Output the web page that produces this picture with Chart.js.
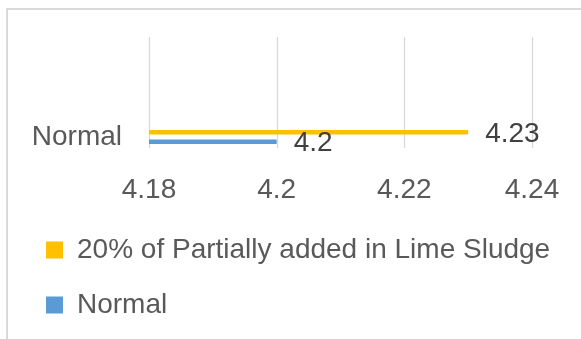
<!DOCTYPE html>
<html>
<head>
<meta charset="utf-8">
<script src="https://cdn.jsdelivr.net/npm/chart.js@4/dist/chart.umd.min.js"></script>
<style>
  html, body { margin: 0; padding: 0; background: #ffffff; overflow: hidden; }
  #wrap { position: relative; width: 581px; height: 339px; overflow: hidden; }
  #frame { position: absolute; left: 6px; top: 8px; width: 1000px; height: 1000px;
           border: 2px solid #d9d9d9; box-sizing: border-box; }
  #chart { position: absolute; left: 0; top: 0; }
</style>
</head>
<body>
<div id="wrap">
  <div id="frame"></div>
  <canvas id="chart" width="581" height="339"></canvas>
</div>
<script>
// Category and series data
const categories = ['Normal'];
const seriesNames = ['20% of Partially added in Lime Sludge', 'Normal'];
const limeSludgeValues = [4.23];
const normalValues = [4.2];
const xTickValues = [4.18, 4.2, 4.22, 4.24];

const seriesColors = ['#FFC000', '#5B9BD5'];
const FONT = "'Liberation Sans', Arial, sans-serif";
const GRID_TOP = 37;      // top end of the value gridlines
const BAND_TOP = 126;     // top of the bar band
const PLOT_RIGHT_INSET = 49;

Chart.defaults.font.family = FONT;
Chart.defaults.font.size = 28;
Chart.defaults.color = '#595959';

// Vertical value gridlines that reach above the bar band
const gridPlugin = {
  id: 'tallGrid',
  beforeDatasetsDraw(chart) {
    const { ctx, chartArea, scales } = chart;
    const x = scales.x;
    ctx.save();
    ctx.strokeStyle = '#d9d9d9';
    ctx.lineWidth = 1.3;
    x.ticks.forEach(t => {
      const px = Math.round(x.getPixelForValue(t.value)) + 0.5;
      ctx.beginPath();
      ctx.moveTo(px, GRID_TOP);
      ctx.lineTo(px, chartArea.bottom);
      ctx.stroke();
    });
    ctx.restore();
  }
};

// Value labels at the end of each bar
const valueLabels = {
  id: 'valueLabels',
  afterDatasetsDraw(chart) {
    const { ctx } = chart;
    ctx.save();
    ctx.font = '28px ' + FONT;
    ctx.fillStyle = '#404040';
    ctx.textAlign = 'left';
    ctx.textBaseline = 'middle';
    chart.data.datasets.forEach((ds, di) => {
      const meta = chart.getDatasetMeta(di);
      meta.data.forEach((bar, i) => {
        ctx.fillText(String(ds.data[i]), bar.x + 17, bar.y + 2);
      });
    });
    ctx.restore();
  }
};

new Chart(document.getElementById('chart'), {
  type: 'bar',
  data: {
    labels: categories,
    datasets: [
      { label: seriesNames[0], data: limeSludgeValues, backgroundColor: seriesColors[0],
        borderWidth: 0, categoryPercentage: 0.8636, barPercentage: 0.4737 },
      { label: seriesNames[1], data: normalValues, backgroundColor: seriesColors[1],
        borderWidth: 0, categoryPercentage: 0.8636, barPercentage: 0.4737 }
    ]
  },
  options: {
    indexAxis: 'y',
    responsive: false,
    animation: false,
    layout: { padding: { top: GRID_TOP, left: 19, right: 10, bottom: 10 } },
    scales: {
      x: {
        type: 'linear',
        min: xTickValues[0],
        max: xTickValues[xTickValues.length - 1],
        afterBuildTicks: s => { s.ticks = xTickValues.map(v => ({ value: v })); },
        afterFit: s => { s.height = 61; s.paddingRight = PLOT_RIGHT_INSET; },
        grid: { display: false, drawTicks: false },
        border: { display: false },
        ticks: { padding: 25, color: '#595959', font: { size: 28 },
                 callback: v => String(v) }
      },
      y: {
        afterFit: s => { s.width = 130; s.paddingTop = BAND_TOP; },
        grid: { display: false, drawTicks: false },
        border: { display: false },
        ticks: { padding: 27, color: '#595959', font: { size: 28 } }
      }
    },
    plugins: {
      legend: {
        position: 'bottom',
        align: 'start',
        labels: { boxWidth: 17, boxHeight: 17, padding: 27, color: '#595959',
                  font: { size: 28 } }
      },
      tooltip: { enabled: false }
    }
  },
  plugins: [gridPlugin, valueLabels]
});
</script>
</body>
</html>
